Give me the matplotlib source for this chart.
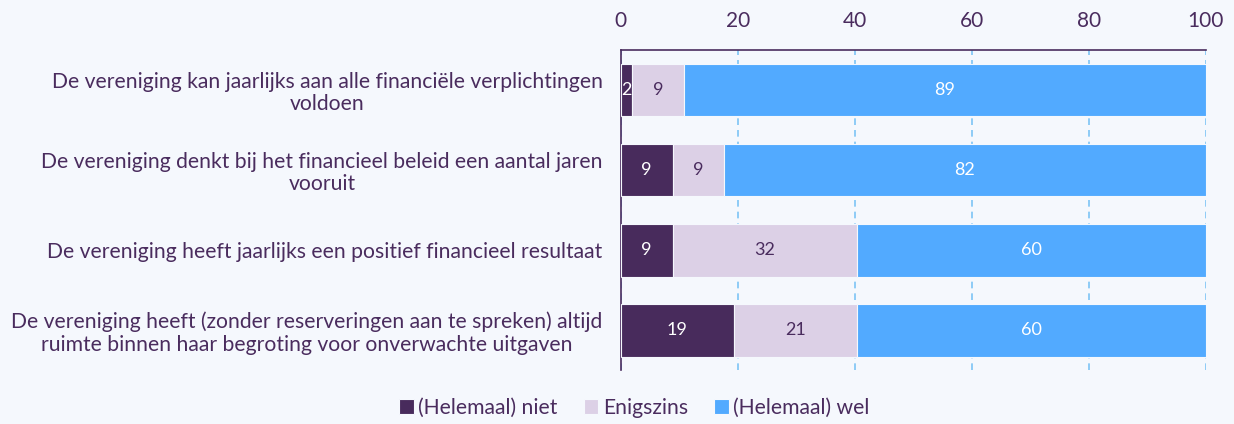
import matplotlib

matplotlib.use("Agg")
import matplotlib.pyplot as plt
import numpy as np

# data (percentages; labels show the rounded numbers)
statements = [
    "De vereniging kan jaarlijks aan alle financiële verplichtingen\nvoldoen",
    "De vereniging denkt bij het financieel beleid een aantal jaren\nvooruit",
    "De vereniging heeft jaarlijks een positief financieel resultaat",
    "De vereniging heeft (zonder reserveringen aan te spreken) altijd\nruimte binnen haar begroting voor onverwachte uitgaven",
]
niet = [1.9, 8.9, 8.9, 19.4]
enigszins = [8.9, 8.7, 31.5, 21.0]
wel = [89.2, 82.4, 59.6, 59.6]
series_names = ["(Helemaal) niet", "Enigszins", "(Helemaal) wel"]
xticks = [0, 20, 40, 60, 80, 100]

BG = "#f5f8fd"
TXT = "#4a2c5e"
colors = ["#482b5c", "#dcd0e6", "#52aaff"]
label_colors = ["white", TXT, "white"]

plt.rcParams["font.family"] = ["Lato", "DejaVu Sans"]

fig = plt.figure(figsize=(12.34, 4.24), dpi=100, facecolor=BG)
ax = fig.add_axes([0.503, 0.127, 0.474, 0.755], facecolor=BG)

y = np.arange(len(statements))
left = np.zeros(len(statements))
for vals, name, col, lc in zip([niet, enigszins, wel], series_names, colors, label_colors):
    vals = np.array(vals)
    bars = ax.barh(y, vals, left=left, height=0.66, color=col, label=name, zorder=3,
                   edgecolor=BG, linewidth=0.8)
    ax.bar_label(bars, labels=[f"{v:.0f}" for v in vals], label_type="center",
                 color=lc, fontsize=13)
    left += vals

ax.set_xlim(0, 100)
ax.set_ylim(len(statements) - 0.5, -0.5)
ax.set_yticks(y)
ax.set_yticklabels(statements, fontsize=15.2, color=TXT, multialignment="center",
                   linespacing=1.15)
ax.set_xticks(xticks)
ax.xaxis.tick_top()
ax.tick_params(axis="x", length=0, labelsize=15, labelcolor=TXT, pad=14)
ax.tick_params(axis="y", length=0, pad=13)
ax.grid(axis="x", color="#7cc4f5", linestyle=(0, (4, 3)), linewidth=1.2, zorder=0)

for s in ["right", "bottom"]:
    ax.spines[s].set_visible(False)
for s in ["top", "left"]:
    ax.spines[s].set_color(TXT)
    ax.spines[s].set_linewidth(1.2)

leg = fig.legend(loc="lower center", bbox_to_anchor=(0.514, -0.03), ncol=3, frameon=False,
                 fontsize=15.2, handlelength=0.7, handleheight=0.7, handletextpad=0.2,
                 columnspacing=1.25)
for t in leg.get_texts():
    t.set_color(TXT)

fig.savefig("out.png", dpi=100, facecolor=BG)
